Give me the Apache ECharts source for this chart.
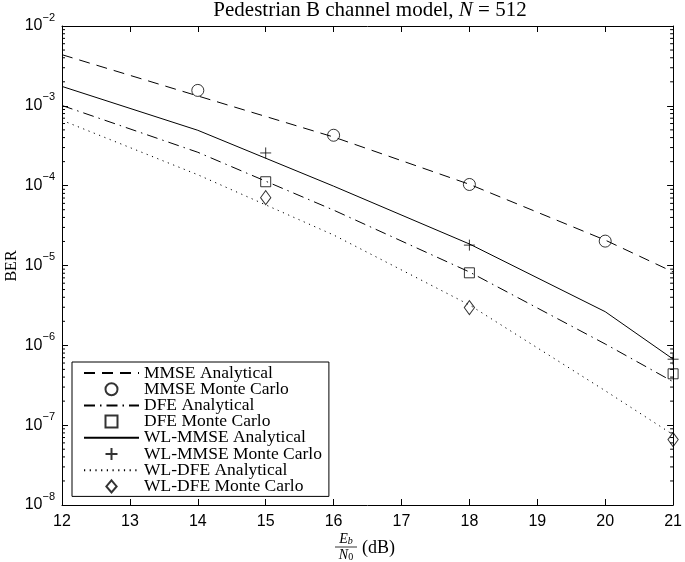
<!DOCTYPE html>
<html>
<head>
<meta charset="utf-8">
<script src="https://cdn.jsdelivr.net/npm/echarts@6/dist/echarts.min.js"></script>
<style>
  html, body { margin: 0; padding: 0; background: #fff; }
  #chart { width: 685px; height: 562px; }
</style>
</head>
<body>
<div id="chart"></div>
<script>
// Eb/N0 grid points (dB)
var snrAnalytical = [12, 14, 16, 18, 20, 21];
var snrMmseMC = [14, 16, 18, 20];
var snrOtherMC = [15, 18, 21];

// BER values
var mmseAnalytical = [4.37e-3, 1.33e-3, 4.07e-4, 1.04e-4, 2.08e-5, 8.3e-6];
var mmseMonteCarlo = [1.56e-3, 4.28e-4, 1.035e-4, 2.02e-5];
var dfeAnalytical = [1.01e-3, 2.62e-4, 4.94e-5, 8.3e-6, 1.04e-6, 3.5e-7];
var dfeMonteCarlo = [1.12e-4, 8.1e-6, 4.4e-7];
var wlMmseAnalytical = [1.75e-3, 4.94e-4, 9.86e-5, 1.86e-5, 2.64e-6, 6.72e-7];
var wlMmseMonteCarlo = [2.57e-4, 1.8e-5, 6.7e-7];
var wlDfeAnalytical = [6.59e-4, 1.37e-4, 2.41e-5, 3.21e-6, 2.7e-7, 7.6e-8];
var wlDfeMonteCarlo = [7.07e-5, 2.97e-6, 6.6e-8];

var X_MIN = 12, X_MAX = 21;
var Y_MIN = 1e-8, Y_MAX = 1e-2;
var minorSteps = [2, 3, 4, 5, 6, 7, 8, 9];
var decades = [-8, -7, -6, -5, -4, -3];

function pairs(xs, ys) {
    return xs.map(function (x, i) { return [x, ys[i]]; });
}

var minorTicks = [];
decades.forEach(function (d) {
    minorSteps.forEach(function (m) { minorTicks.push([X_MIN, m * Math.pow(10, d)]); });
});

var SERIF = 'Liberation Serif';
var SANS = 'Liberation Sans';
var INK = '#000';
var NONE = 'rgba(0,0,0,0)';
var hollow = { color: NONE, borderColor: INK, borderWidth: 1 };

// marker shapes as paths so the legend keeps their proportions
var PLUS = 'path://M0,5L10,5M5,0L5,10';
var SQUARE = 'path://M0,0L10,0L10,10L0,10Z';
var DIAMOND = 'path://M6,0L12,7L6,14L0,7Z';

function lineSeries(name, data, dash) {
    return {
        name: name, type: 'line', data: data, symbol: 'none', silent: true,
        lineStyle: { color: INK, width: 1, type: dash },
        // transparent so the legend shows only the line sample
        itemStyle: { color: NONE, borderWidth: 0 }
    };
}

function markSeries(name, data, symbol, size) {
    return {
        name: name, type: 'scatter', data: data, symbol: symbol, symbolSize: size,
        symbolKeepAspect: true, clip: false, silent: true, itemStyle: hollow
    };
}

var chart = echarts.init(document.getElementById('chart'), null, { renderer: 'canvas' });

var yLabel = {
    show: true,
    margin: 7,
    color: INK,
    formatter: function (v) {
        var e = Math.round(Math.log10(v));
        return '{a|10}{b|\u2212' + (-e) + '}';
    },
    rich: {
        a: { fontFamily: SANS, fontSize: 16, lineHeight: 28, verticalAlign: 'middle', color: INK },
        b: { fontFamily: SANS, fontSize: 11, lineHeight: 14, verticalAlign: 'top', color: INK }
    }
};

chart.setOption({
    animation: false,
    backgroundColor: '#fff',
    grid: { left: 62, top: 26, right: 7, bottom: 57 },
    xAxis: [{
        type: 'value', min: X_MIN, max: X_MAX, interval: 1, position: 'bottom',
        axisLine: { lineStyle: { color: INK, width: 1 } },
        axisTick: { inside: true, length: 6, lineStyle: { color: INK } },
        axisLabel: { color: INK, fontFamily: SANS, fontSize: 16, margin: 9 },
        splitLine: { show: false }
    }, {
        type: 'value', min: X_MIN, max: X_MAX, interval: 1, position: 'top',
        axisLine: { lineStyle: { color: INK, width: 1 } },
        axisTick: { inside: true, length: 6, lineStyle: { color: INK } },
        axisLabel: { show: false },
        splitLine: { show: false }
    }],
    yAxis: [{
        type: 'log', logBase: 10, min: Y_MIN, max: Y_MAX, position: 'left',
        axisLine: { lineStyle: { color: INK, width: 1 } },
        axisTick: { inside: true, length: 6, lineStyle: { color: INK } },
        axisLabel: yLabel,
        splitLine: { show: false }
    }, {
        type: 'log', logBase: 10, min: Y_MIN, max: Y_MAX, position: 'right',
        axisLine: { lineStyle: { color: INK, width: 1 } },
        axisTick: { inside: true, length: 6, lineStyle: { color: INK } },
        axisLabel: { show: false },
        splitLine: { show: false }
    }],
    legend: {
        orient: 'vertical',
        left: 72, top: 362,
        padding: [2, 7, 1, 11],
        itemWidth: 55, itemHeight: 12, itemGap: -1.8,
        symbolKeepAspect: true,
        backgroundColor: '#fff',
        borderColor: INK, borderWidth: 1, borderRadius: 0,
        selectedMode: false,
        textStyle: { fontFamily: SERIF, fontSize: 17.5, color: INK },
        data: [
            'MMSE Analytical',
            { name: 'MMSE Monte Carlo', icon: 'circle' },
            'DFE Analytical',
            { name: 'DFE Monte Carlo', icon: SQUARE },
            'WL-MMSE Analytical',
            { name: 'WL-MMSE Monte Carlo', icon: PLUS },
            'WL-DFE Analytical',
            { name: 'WL-DFE Monte Carlo', icon: DIAMOND }
        ]
    },
    graphic: [
        {
            type: 'text', x: 370, y: 10,
            style: {
                text: '{r|Pedestrian B channel model, }{i|N}{r| = 512}',
                align: 'center', verticalAlign: 'middle',
                rich: {
                    r: { fontFamily: SERIF, fontSize: 21, fill: INK },
                    i: { fontFamily: SERIF, fontSize: 21, fontStyle: 'italic', fill: INK }
                }
            }
        },
        {
            type: 'text', rotation: Math.PI / 2, x: 12, y: 266,
            style: { text: 'BER', fontFamily: SERIF, fontSize: 16, fill: INK, align: 'center', verticalAlign: 'middle' }
        },
        {
            type: 'group', x: 0, y: 0,
            children: [
                { type: 'text', x: 346, y: 539, style: { text: '{e|E}{s|b}', align: 'center', verticalAlign: 'middle',
                    rich: { e: { fontFamily: SERIF, fontSize: 14, fontStyle: 'italic', fill: INK },
                            s: { fontFamily: SERIF, fontSize: 10, fontStyle: 'italic', fill: INK, verticalAlign: 'bottom', lineHeight: 15 } } } },
                { type: 'line', shape: { x1: 335, y1: 547, x2: 357, y2: 547 }, style: { stroke: INK, lineWidth: 0.8 } },
                { type: 'text', x: 346, y: 555, style: { text: '{e|N}{s|0}', align: 'center', verticalAlign: 'middle',
                    rich: { e: { fontFamily: SERIF, fontSize: 14, fontStyle: 'italic', fill: INK },
                            s: { fontFamily: SERIF, fontSize: 10, fill: INK, verticalAlign: 'bottom', lineHeight: 15 } } } },
                { type: 'text', x: 362, y: 548, style: { text: '(dB)', fontFamily: SERIF, fontSize: 18, fill: INK, verticalAlign: 'middle' } }
            ]
        }
    ],
    series: [
        lineSeries('MMSE Analytical', pairs(snrAnalytical, mmseAnalytical), [11, 7]),
        markSeries('MMSE Monte Carlo', pairs(snrMmseMC, mmseMonteCarlo), 'circle', 12),
        lineSeries('DFE Analytical', pairs(snrAnalytical, dfeAnalytical), [11, 5, 1.5, 5]),
        markSeries('DFE Monte Carlo', pairs(snrOtherMC, dfeMonteCarlo), SQUARE, 10),
        lineSeries('WL-MMSE Analytical', pairs(snrAnalytical, wlMmseAnalytical), 'solid'),
        markSeries('WL-MMSE Monte Carlo', pairs(snrOtherMC, wlMmseMonteCarlo), PLUS, 11),
        lineSeries('WL-DFE Analytical', pairs(snrAnalytical, wlDfeAnalytical), [1.2, 4.5]),
        markSeries('WL-DFE Monte Carlo', pairs(snrOtherMC, wlDfeMonteCarlo), DIAMOND, [12, 14]),
        {
            // log-spaced minor ticks on the left and right frame
            type: 'custom', silent: true, data: minorTicks, clip: false,
            renderItem: function (params, api) {
                var left = api.coord([X_MIN, api.value(1)]);
                var right = api.coord([X_MAX, api.value(1)]);
                var st = { stroke: INK, lineWidth: 1 };
                return {
                    type: 'group',
                    children: [
                        { type: 'line', shape: { x1: left[0], y1: left[1], x2: left[0] + 3, y2: left[1] }, style: st },
                        { type: 'line', shape: { x1: right[0], y1: right[1], x2: right[0] - 3, y2: right[1] }, style: st }
                    ]
                };
            }
        }
    ]
});
</script>
</body>
</html>
